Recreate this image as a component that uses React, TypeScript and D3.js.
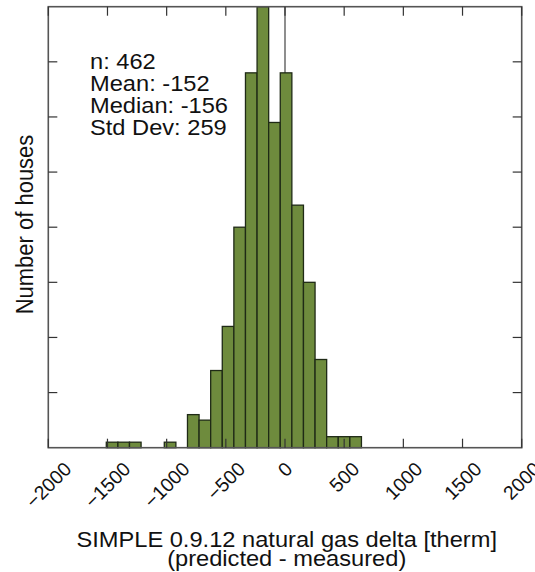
import React, { useMemo } from "react";
import * as d3 from "d3";

// ---- data ----
const binStarts = [-1510, -1412, -1314, -1216, -1118, -1020, -922, -824, -726, -628, -530, -432, -334, -236, -138, -40, 58, 156, 254, 352, 450, 548];
const binWidth = 98;
const binCounts = [1, 1, 1, 0, 0, 1, 0, 6, 5, 14, 22, 40, 68, 80, 59, 68, 44, 30, 16, 2, 2, 2];
const xTicks = [-2000, -1500, -1000, -500, 0, 500, 1000, 1500, 2000];
const xTickLabels = ["\u22122000", "\u22121500", "\u22121000", "\u2212500", "0", "500", "1000", "1500", "2000"];
const yTicks = [10, 20, 30, 40, 50, 60, 70];
const statLines = ["n: 462", "Mean: -152", "Median: -156", "Std Dev: 259"];
const xTitle = ["SIMPLE 0.9.12 natural gas delta [therm]", "(predicted - measured)"];
const yTitle = "Number of houses";

const W = 535;
const H = 572;
const L = 48.3, R = 521.7, T = 6.7, B = 447.7;
const SX = 1.1; // horizontal stretch of the reference glyphs
const FONT = "'Liberation Sans', Arial, Helvetica, sans-serif";
const TICK_FS = 19.5;

function measure(labels: string[], fs: number): number[] {
  try {
    const c = document.createElement("canvas");
    const ctx = c.getContext("2d");
    if (!ctx) throw new Error("no ctx");
    ctx.font = `${fs}px 'Liberation Sans', Arial, sans-serif`;
    return labels.map((s) => ctx.measureText(s).width);
  } catch (e) {
    return labels.map((s) => s.length * fs * 0.556);
  }
}

export default function App() {
  const x = d3.scaleLinear().domain([-2000, 2000]).range([L, R]);
  const y = d3.scaleLinear().domain([0, 80]).range([B, T]);
  const tickLen = 9;
  const widths = useMemo(() => measure(xTickLabels, TICK_FS), []);
  const labelTop = 460.5;
  const capH = TICK_FS * 0.72;

  return (
    <svg width={W} height={H} style={{ position: "absolute", left: 0, top: 0, background: "#fff" }}>
      {/* zero reference line */}
      <line x1={x(0)} x2={x(0)} y1={T} y2={B} stroke="#444" strokeWidth={1.2} />
      {/* bars */}
      {binStarts.map((s, i) =>
        binCounts[i] > 0 ? (
          <rect
            key={i}
            x={x(s)}
            width={x(s + binWidth) - x(s)}
            y={y(binCounts[i])}
            height={y(0) - y(binCounts[i])}
            fill="#6E8B3D"
            stroke="#1f2a16"
            strokeWidth={1.3}
          />
        ) : null
      )}
      {/* frame */}
      <rect x={L} y={T} width={R - L} height={B - T} fill="none" stroke="#555" strokeWidth={1.6} />
      {/* x ticks (inward, top and bottom) */}
      {xTicks.map((t) => (
        <g key={"xt" + t}>
          <line x1={x(t)} x2={x(t)} y1={B} y2={B - tickLen} stroke="#333" strokeWidth={1.2} />
          <line x1={x(t)} x2={x(t)} y1={T} y2={T + tickLen} stroke="#333" strokeWidth={1.2} />
        </g>
      ))}
      {/* y ticks (inward, left and right) */}
      {yTicks.map((t) => (
        <g key={"yt" + t}>
          <line x1={L} x2={L + tickLen} y1={y(t)} y2={y(t)} stroke="#333" strokeWidth={1.2} />
          <line x1={R} x2={R - tickLen} y1={y(t)} y2={y(t)} stroke="#333" strokeWidth={1.2} />
        </g>
      ))}
      {/* x tick labels, rotated; centred under the tick, tops aligned */}
      {xTicks.map((t, i) => {
        const half = (0.7071 * (widths[i] + capH)) / 2;
        return (
          <g key={"xl" + t} transform={`translate(${x(t)},${labelTop + half}) rotate(-45)`}>
            <text x={0} y={0} textAnchor="middle" dominantBaseline="central" fontFamily={FONT} fontSize={TICK_FS} fill="#111">
              {xTickLabels[i]}
            </text>
          </g>
        );
      })}
      {/* stats text */}
      {statLines.map((s, i) => (
        <g key={"st" + i} transform={`translate(90,${68.5 + i * 22}) scale(${SX},1)`}>
          <text x={0} y={0} fontFamily={FONT} fontSize={21.5} fill="#111">
            {s}
          </text>
        </g>
      ))}
      {/* x title */}
      {xTitle.map((s, i) => (
        <g key={"xtt" + i} transform={`translate(286.7,${546.7 + i * 19.3}) scale(${SX},1)`}>
          <text x={0} y={0} textAnchor="middle" fontFamily={FONT} fontSize={21.5} fill="#111">
            {s}
          </text>
        </g>
      ))}
      {/* y title */}
      <g transform={`translate(33.3,224.5) scale(${SX},1) rotate(-90)`}>
        <text x={0} y={0} textAnchor="middle" fontFamily={FONT} fontSize={22} fill="#111">
          {yTitle}
        </text>
      </g>
    </svg>
  );
}
